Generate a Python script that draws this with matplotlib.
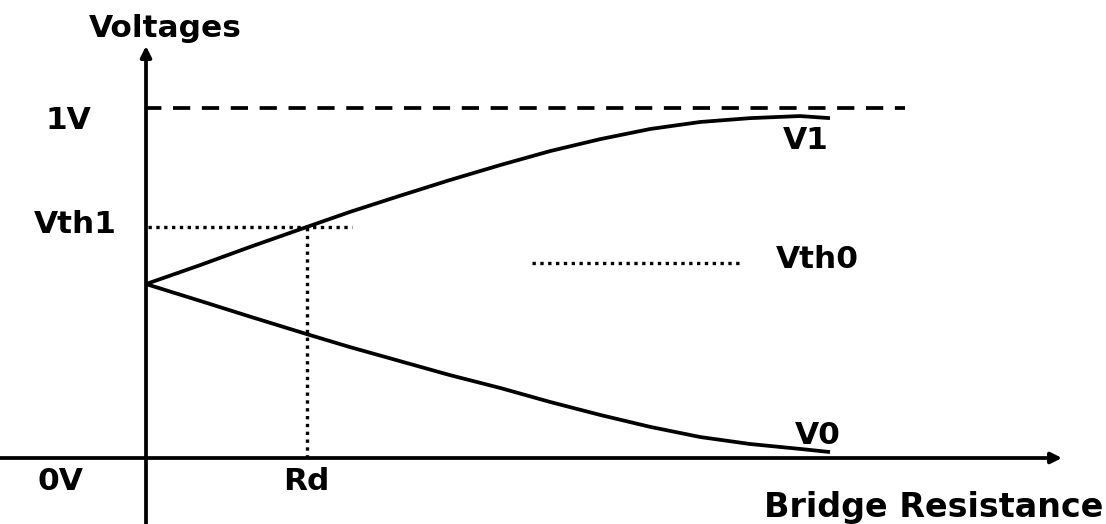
import matplotlib.pyplot as plt

# bridge resistance (0 = origin, 1 = end of curves)
r = [0, 0.079, 0.152, 0.235, 0.298, 0.371, 0.444, 0.518, 0.591, 0.664, 0.737, 0.810, 0.883, 0.956, 1.0]
v1 = [0.497, 0.551, 0.603, 0.660, 0.703, 0.749, 0.794, 0.837, 0.877, 0.911, 0.940, 0.960, 0.971, 0.977, 0.971]
v0 = [0.497, 0.449, 0.404, 0.354, 0.317, 0.277, 0.237, 0.200, 0.160, 0.123, 0.089, 0.060, 0.040, 0.026, 0.017]

one_volt = 1.0
vth1 = 0.660
vth0 = 0.557
rd = 0.235


def px(x, y):
    # picture pixels -> data units, only used for placing things
    return (x - 146) / 684, (458 - y) / 350


fig = plt.figure(figsize=(11.06, 5.24), dpi=100)
ax = fig.add_axes([0, 0, 1, 1])
ax.set_xlim(px(0, 0)[0], px(1106, 0)[0])
ax.set_ylim(px(0, 524)[1], px(0, 0)[1])
ax.axis('off')

lw = 2.7
# axes with arrows
ax.annotate('', xy=(0, px(0, 46)[1]), xytext=(0, px(0, 530)[1]),
            arrowprops=dict(arrowstyle='-|>', lw=lw, color='k', mutation_scale=16, shrinkA=0, shrinkB=0))
ax.annotate('', xy=(px(1062, 0)[0], 0), xytext=(px(-5, 0)[0], 0),
            arrowprops=dict(arrowstyle='-|>', lw=lw, color='k', mutation_scale=16, shrinkA=0, shrinkB=0))

ax.plot(r, v1, color='k', lw=lw, solid_capstyle='butt', solid_joinstyle='round')
ax.plot(r, v0, color='k', lw=lw, solid_capstyle='butt', solid_joinstyle='round')

ax.plot([0, px(905, 0)[0]], [one_volt, one_volt], color='k', lw=lw, linestyle=(0.5, (4.6, 3.1)), dash_capstyle='butt')
dot = (0, (1, 1.35))
dlw = 2.4
ax.plot([px(148, 0)[0], px(352, 0)[0]], [vth1, vth1], color='k', lw=dlw, linestyle=dot, dash_capstyle='butt')
ax.plot([rd, rd], [0, vth1], color='k', lw=dlw, linestyle=dot, dash_capstyle='butt')
ax.plot([px(532, 0)[0], px(740, 0)[0]], [vth0, vth0], color='k', lw=dlw, linestyle=dot, dash_capstyle='butt')

font = dict(fontweight='bold', family='DejaVu Sans', color='k')
labels = [
    ('Voltages', 165, 37, 22.5),
    ('1V', 68, 129, 22.5),
    ('Vth1', 75, 233, 22.5),
    ('Vth0', 817, 268, 22.5),
    ('V1', 806, 149, 22.5),
    ('V0', 818, 444, 22.5),
    ('0V', 60, 490, 22.5),
    ('Rd', 306, 490, 22.5),
    ('Bridge Resistance', 934, 517, 24),
]
for txt, x, y, size in labels:
    ax.text(*px(x, y), txt, ha='center', va='baseline', fontsize=size, **font)

fig.savefig('out.png', dpi=100)
